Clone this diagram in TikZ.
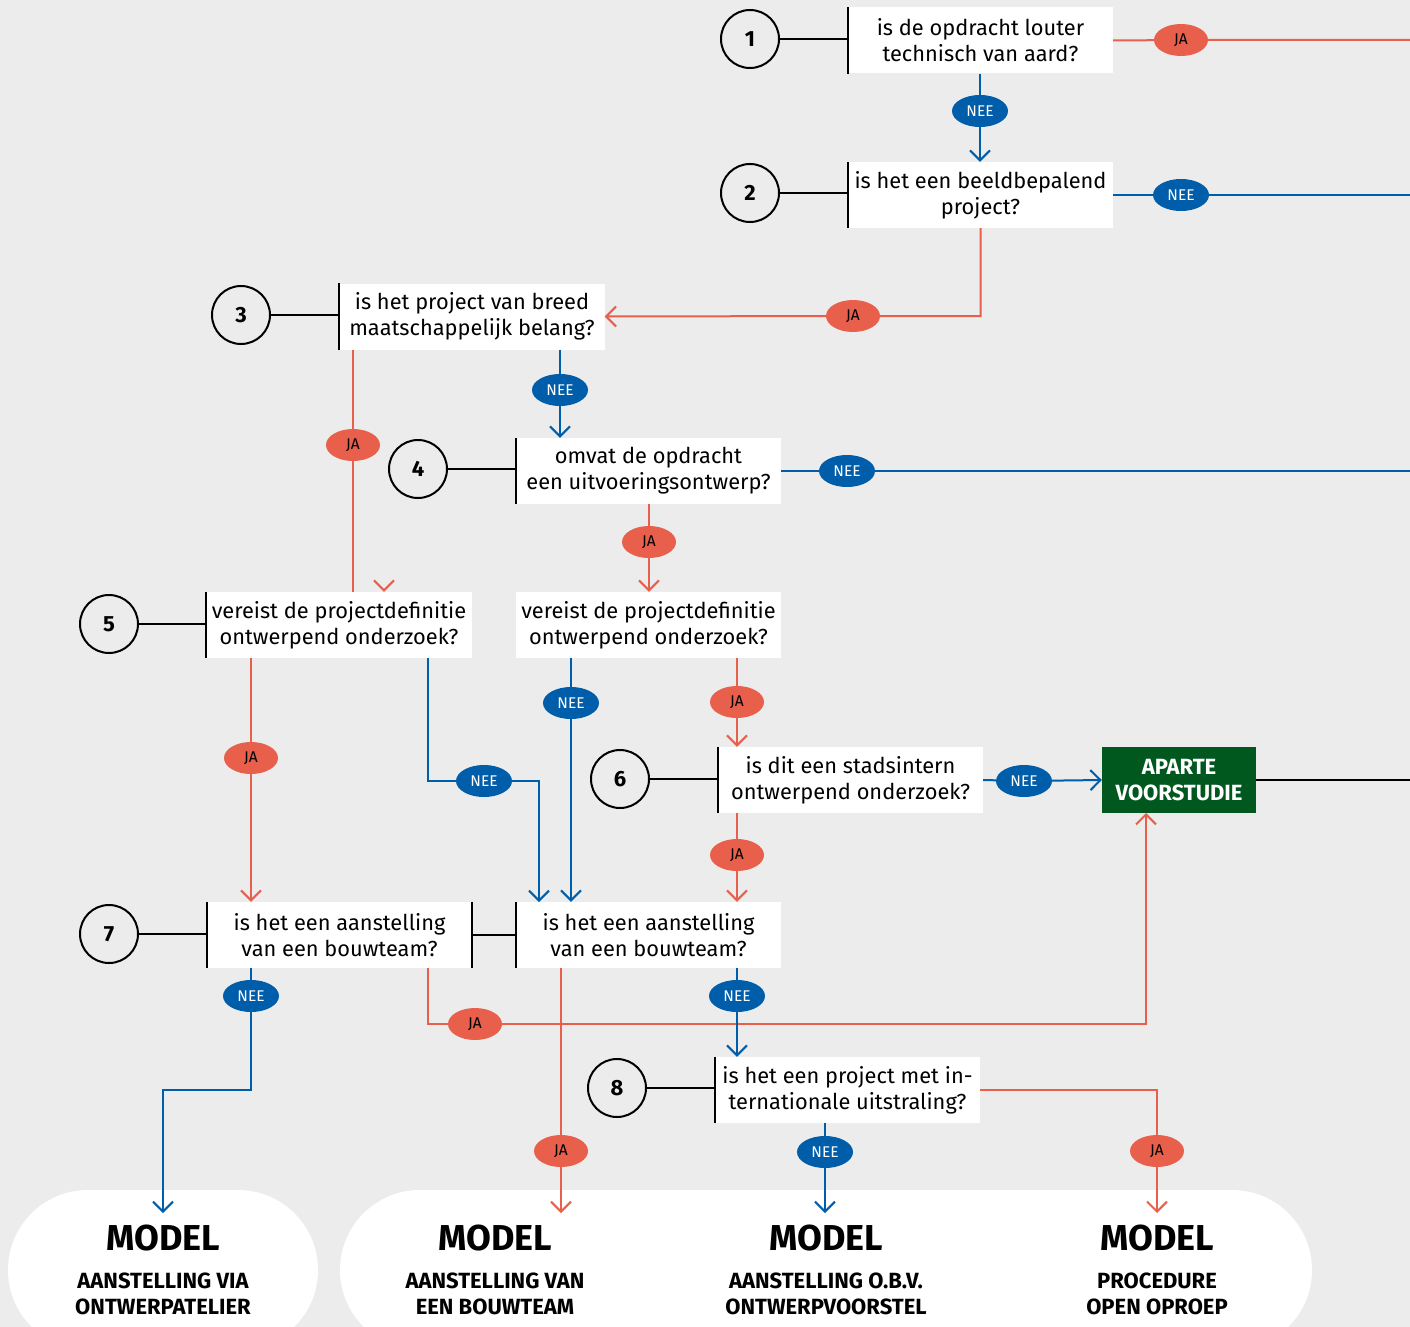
\documentclass[tikz,border=0pt]{standalone}
\usepackage{fontspec}
\setmainfont{Fira Sans}
\usetikzlibrary{arrows.meta,shapes.geometric}
\definecolor{jared}{HTML}{E8604C}
\definecolor{neeblue}{HTML}{005DA9}
\definecolor{bggrey}{HTML}{ECECEC}
\definecolor{voorgreen}{HTML}{00581F}
\tikzset{
  question/.style={fill=white, minimum width=265pt, minimum height=66pt, inner sep=0pt,
    align=center, font=\fontsize{21.8}{26}\selectfont},
  stepnum/.style={circle, draw, line width=2pt, fill=bggrey, minimum size=58pt, inner sep=0pt,
    font=\fontsize{22}{22}\selectfont\bfseries},
  jalbl/.style={ellipse, fill=jared, minimum width=54pt, minimum height=32pt, inner sep=0pt,
    font=\fontsize{15.5}{15.5}\selectfont},
  neelbl/.style={ellipse, fill=neeblue, text=white, minimum width=56pt, minimum height=32pt,
    inner sep=0pt, font=\fontsize{15.5}{15.5}\selectfont},
  jaline/.style={draw=jared, line width=2pt},
  neeline/.style={draw=neeblue, line width=2pt},
  blackline/.style={draw=black, line width=2pt},
  arrowed/.style={-{Straight Barb[length=10pt,width=20pt]}},
  modeltitle/.style={font=\fontsize{36}{36}\selectfont\bfseries},
  modelsub/.style={align=center, font=\fontsize{22}{26}\selectfont\bfseries}
}
\begin{document}
\begin{tikzpicture}[x=1pt,y=-1pt]
    \useasboundingbox (0,0) rectangle (1410,1327);
    \clip (0,0) rectangle (1410,1327);
    \fill[bggrey] (0,0) rectangle (1410,1327);
    % model backgrounds
    \fill[white, rounded corners=80pt] (8,1190) rectangle (318,1350);
    \fill[white, rounded corners=80pt] (340,1190) rectangle (1312,1350);
    % question boxes
    \node[question] (q1) at (980.5,40.5) {is de opdracht louter\\technisch van aard?};
    \node[question] (q2) at (980.5,195) {is het een beeldbepalend\\project?};
    \node[question] (q3) at (472,316.5) {is het project van breed\\maatschappelijk belang?};
    \node[question] (q4) at (648.5,471) {omvat de opdracht\\een uitvoeringsontwerp?};
    \node[question] (q5a) at (339,625) {vereist de projectdefinitie\\ontwerpend onderzoek?};
    \node[question] (q5b) at (648.5,625) {vereist de projectdefinitie\\ontwerpend onderzoek?};
    \node[question] (q6) at (850.5,780) {is dit een stadsintern\\ontwerpend onderzoek?};
    \node[question] (q7a) at (339.5,935) {is het een aanstelling\\van een bouwteam?};
    \node[question] (q7b) at (648.5,935) {is het een aanstelling\\van een bouwteam?};
    \node[question] (q8) at (847.5,1090) {is het een project met in-\\ternationale uitstraling?};
    \node[fill=voorgreen, text=white, minimum width=154pt, minimum height=66pt, inner sep=0pt,
      align=center, font=\fontsize{22}{26}\selectfont\bfseries] (apart) at (1179,780) {APARTE\\VOORSTUDIE};
    % step numbers
    \node[stepnum] (c1) at (750,39) {1};
    \node[stepnum] (c2) at (750,193) {2};
    \node[stepnum] (c3) at (241,315) {3};
    \node[stepnum] (c4) at (418,469) {4};
    \node[stepnum] (c5) at (109,624) {5};
    \node[stepnum] (c6) at (620,779) {6};
    \node[stepnum] (c7) at (109,934) {7};
    \node[stepnum] (c8) at (617,1088) {8};
    % number to box
    \foreach \n in {1,2,3,4,6,8}{
      \draw[blackline] (c\n) -- (c\n -| q\n.west);
      \draw[blackline] (q\n.north west) -- (q\n.south west);
    }
    \draw[blackline] (c5) -- (c5 -| q5a.west);
    \draw[blackline] (q5a.north west) -- (q5a.south west);
    \draw[blackline] (c7) -- (c7 -| q7a.west);
    \draw[blackline] (q7a.north west) -- (q7a.south west);
    \draw[blackline] (q7a.north east) -- (q7a.south east);
    \draw[blackline] (q7b.north west) -- (q7b.south west);
    \draw[blackline] (q7a.east) -- (q7b.west);
    % free ends and bends
    \coordinate (r1) at (1410,40);
    \coordinate (r2) at (1410,195);
    \coordinate (r4) at (1410,471);
    \coordinate (r6) at (1410,780);
    \coordinate (drop5) at (428,658);
    \coordinate (land5) at (539,902);
    \coordinate (drop7) at (428,968);
    \coordinate (rise7) at (1146,813);
    \coordinate (bend7) at (163,1090);
    \coordinate (tip1) at (163,1213);
    \coordinate (tip2) at (561,1213);
    \coordinate (tip3) at (825,1213);
    \coordinate (tip4) at (1157,1213);
    % answer labels
    \node[jalbl] (ja1) at (1181,40) {JA};
    \node[neelbl] (nee1) at (980,111) {NEE};
    \node[neelbl] (nee2) at (1181,195) {NEE};
    \node[jalbl] (ja2) at (853,316) {JA};
    \node[neelbl] (nee3) at (560,390) {NEE};
    \node[jalbl] (ja3) at (353,445) {JA};
    \node[neelbl] (nee4) at (847,471) {NEE};
    \node[jalbl] (ja4) at (649,542) {JA};
    \node[jalbl] (ja5a) at (251,758) {JA};
    \node[neelbl] (nee5a) at (484,781) {NEE};
    \node[neelbl] (nee5b) at (571,703) {NEE};
    \node[jalbl] (ja5b) at (737,702) {JA};
    \node[neelbl] (nee6) at (1024,781) {NEE};
    \node[jalbl] (ja6) at (737,855) {JA};
    \node[neelbl] (nee7a) at (251,996) {NEE};
    \node[jalbl] (ja7a) at (475,1024) {JA};
    \node[jalbl] (ja7b) at (561,1151) {JA};
    \node[neelbl] (nee7b) at (737,996) {NEE};
    \node[neelbl] (nee8) at (825,1152) {NEE};
    \node[jalbl] (ja8) at (1157,1151) {JA};
    % connectors
    \draw[jaline] (q1.east) -- (ja1) -- (r1);
    \draw[neeline, arrowed] (q1.south -| nee1) -- (nee1) -- (q2.north -| nee1);
    \draw[neeline] (q2.east) -- (nee2) -- (r2);
    \draw[jaline, arrowed] (q2.south) |- (ja2) -- (q3.east);
    \draw[neeline, arrowed] (q3.south -| nee3) -- (nee3) -- (q4.north -| nee3);
    \draw[jaline] (q3.south -| ja3) -- (ja3) -- (q5a.north -| ja3);
    \draw[jaline, arrowed] (384,591) -- (q5a.north -| 384,0);
    \draw[neeline] (q4.east) -- (nee4) -- (r4);
    \draw[jaline, arrowed] (q4.south -| ja4) -- (ja4) -- (q5b.north -| ja4);
    \draw[jaline, arrowed] (q5a.south -| ja5a) -- (ja5a) -- (q7a.north -| ja5a);
    \draw[neeline, arrowed] (drop5) |- (nee5a) -| (land5);
    \draw[neeline, arrowed] (q5b.south -| nee5b) -- (nee5b) -- (q7b.north -| nee5b);
    \draw[jaline, arrowed] (q5b.south -| ja5b) -- (ja5b) -- (q6.north -| ja5b);
    \draw[neeline, arrowed] (q6.east) -- (nee6) -- (apart.west);
    \draw[jaline, arrowed] (q6.south -| ja6) -- (ja6) -- (q7b.north -| ja6);
    \draw[blackline] (apart.east) -- (r6);
    \draw[neeline, arrowed] (q7a.south -| nee7a) -- (nee7a) |- (bend7) -- (tip1);
    \draw[jaline, arrowed] (drop7) |- (ja7a) -| (rise7);
    \draw[jaline, arrowed] (q7b.south -| ja7b) -- (ja7b) -- (tip2);
    \draw[neeline, arrowed] (q7b.south -| nee7b) -- (nee7b) -- (q8.north -| nee7b);
    \draw[neeline, arrowed] (q8.south -| nee8) -- (nee8) -- (tip3);
    \draw[jaline, arrowed] (q8.east) -| (ja8) -- (tip4);
    % models
    \node[modeltitle] (m1) at (163,1238) {MODEL};
    \node[modeltitle] (m2) at (495,1238) {MODEL};
    \node[modeltitle] (m3) at (826,1238) {MODEL};
    \node[modeltitle] (m4) at (1157,1238) {MODEL};
    \node[modelsub] (s1) at (163,1294) {AANSTELLING VIA\\ONTWERPATELIER};
    \node[modelsub] (s2) at (495,1294) {AANSTELLING VAN\\EEN BOUWTEAM};
    \node[modelsub] (s3) at (826,1294) {AANSTELLING O.B.V.\\ONTWERPVOORSTEL};
    \node[modelsub] (s4) at (1157,1294) {PROCEDURE\\OPEN OPROEP};
\end{tikzpicture}
\end{document}
